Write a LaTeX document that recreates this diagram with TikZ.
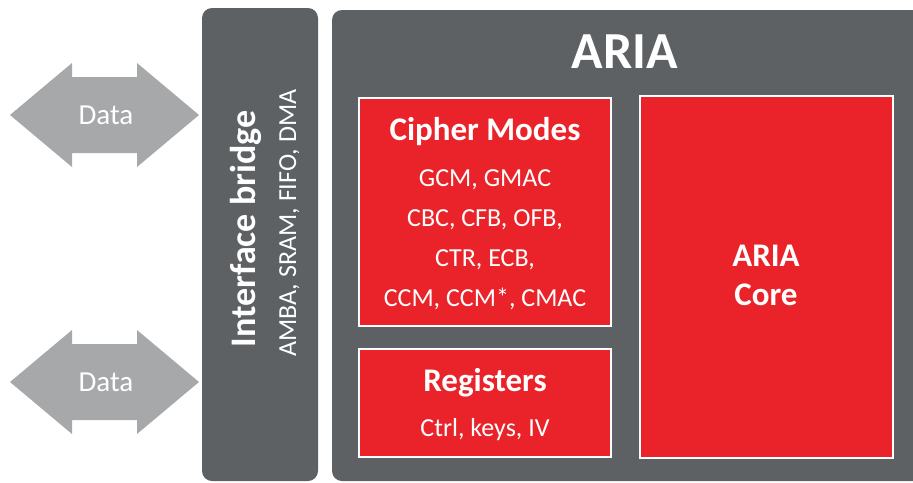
\documentclass[tikz,border=0pt]{standalone}
\usepackage{fontspec}
\setmainfont{Carlito}
\usetikzlibrary{positioning}

\definecolor{panelgrey}{RGB}{94,97,100}
\definecolor{datagrey}{RGB}{166,168,169}
\definecolor{ariared}{RGB}{233,35,41}

\tikzset{
  panel/.style={fill=panelgrey, rounded corners=10pt},
  redbox/.style={fill=ariared, draw=white, line width=2.5pt},
  datafill/.style={fill=datagrey},
  datatext/.style={text=white, font=\fontsize{29}{32}\selectfont, inner sep=0pt},
  titletext/.style={text=white, font=\fontsize{52}{60}\selectfont\bfseries, inner sep=0pt},
  headtext/.style={text=white, font=\fontsize{33}{40}\selectfont\bfseries, inner sep=0pt},
  bridgehead/.style={text=white, font=\fontsize{36}{42}\selectfont\bfseries, inner sep=0pt},
  listtext/.style={text=white, font=\fontsize{26}{32}\selectfont, inner sep=0pt}
}

\begin{document}
\begin{tikzpicture}[x=1pt,y=-1pt]
\useasboundingbox (0,0) rectangle (913,482);
\clip (0,0) rectangle (913,482);
% Data arrows
\foreach \yc/\nm in {115/top,382/bot}{
  \fill[datafill] (10,\yc) -- (72,\yc-52) -- (72,\yc-38) -- (137,\yc-38) -- (137,\yc-52)
    -- (199,\yc) -- (137,\yc+52) -- (137,\yc+38) -- (72,\yc+38) -- (72,\yc+52) -- cycle;
  \node[datatext] (data-\nm) at (106,\yc) {Data};
}
% Interface bridge
\fill[panel] (202,8) rectangle (318,481);
\node[bridgehead, rotate=90, anchor=base] (bridge) at (255,229) {Interface bridge};
\node[listtext, rotate=90, anchor=base] (bridge-bus) at (296,223) {AMBA, SRAM, FIFO, DMA};
% ARIA block
\fill[panel] (332,10) rectangle (940,481);
\node[titletext, anchor=base] (aria) at (625,68) {ARIA};
% Cipher modes
\filldraw[redbox] (359,98) rectangle (611,326);
\node[headtext, anchor=base] (modes) at (485,140) {Cipher Modes};
\foreach \ln [count=\i] in {{GCM, GMAC},{CBC, CFB, OFB,},{CTR, ECB,},{CCM, CCM*, CMAC}}
  \node[listtext, anchor=base] (mode-\i) at (485,146+40*\i) {\ln};
% Registers
\filldraw[redbox] (359,349) rectangle (611,457);
\node[headtext, anchor=base] (regs) at (485,391) {Registers};
\node[listtext, anchor=base] (regs-sub) at (485,436) {Ctrl, keys, IV};
% Core
\filldraw[redbox] (640,96) rectangle (893,458);
\node[headtext, anchor=base] (core) at (766,266) {ARIA};
\node[headtext, anchor=base] (core-sub) at (766,305) {Core};
\end{tikzpicture}
\end{document}
